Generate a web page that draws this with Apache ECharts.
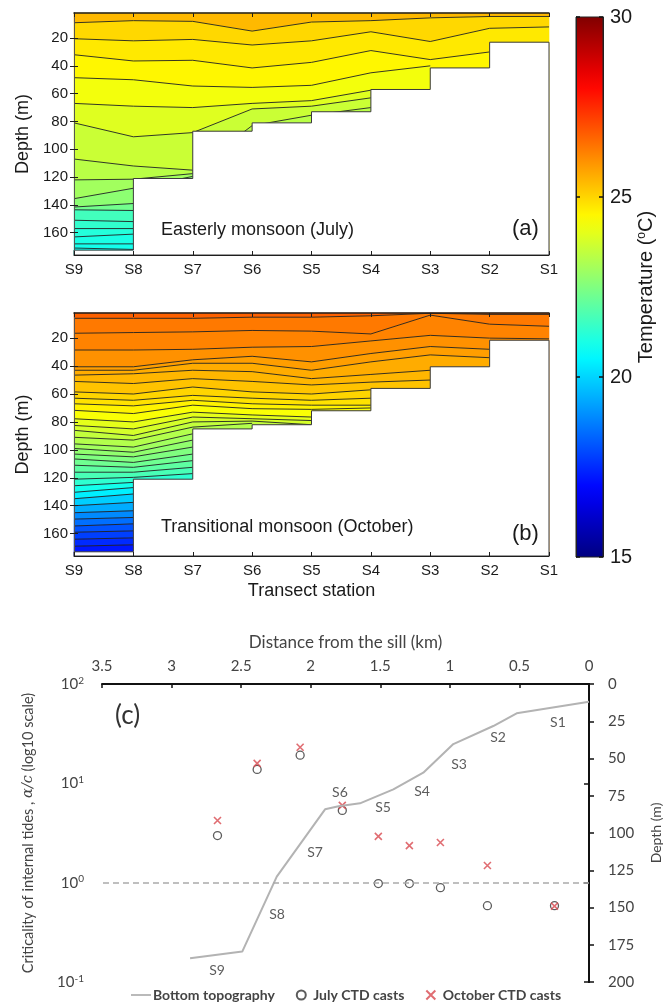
<!DOCTYPE html>
<html>
<head>
<meta charset="utf-8">
<script src="https://cdn.jsdelivr.net/npm/echarts@6/dist/echarts.min.js"></script>
<style>
  html, body { margin: 0; padding: 0; background: #fff; }
  #chart { width: 665px; height: 1003px; }
</style>
</head>
<body>
<div id="chart"></div>
<script>
// ---------- Temperature sections (panels a, b) ----------
const stations = ['S9', 'S8', 'S7', 'S6', 'S5', 'S4', 'S3', 'S2', 'S1'];
const depthTicks = [20, 40, 60, 80, 100, 120, 140, 160];
const DEPTH_MIN = 2;
const DEPTH_MAX = 176;

// sea-floor depth (m) of each segment between neighbouring stations
const floorJuly = [172.5, 121, 87, 81, 73, 57, 41.5, 23];
const floorOct  = [173, 121, 85, 82, 72, 56, 40.5, 21.5];

// isotherm depths (m) at S9..S1; a shorter list means the isotherm runs into the floor
const isoJuly = [
  [9, 7.5, 8, 15, 8.5, 7.5, 5.5, 4.5, 4.5],
  [20.5, 22, 21, 25, 22, 15.5, 22.5, 13, 12],
  [32, 36.5, 36, 41.5, 37.5, 29, 35.5, 30],
  [48.5, 50, 54.5, 55.5, 54, 45, 40],
  [67, 69, 70, 67, 65, 57.5],
  [81, 91, 88, 71, 69, 63],
  [107, 112, 115, 83, 75.5, 70],
  [122, 121.5, 117.5],
  [135.5, 128, 119.5],
  [141.5, 139, 121],
  [143.5, 144],
  [151, 152],
  [157, 157],
  [163, 161],
  [168, 168],
  [171, 172]
];
// temperature (°C) of each layer between isotherms, surface to floor
const bandTempJuly = [25.4, 24.95, 24.7, 24.5, 24.2, 23.9, 23.6, 23.35, 23.0, 22.7, 22.3,
  21.6, 21.35, 21.15, 21.0, 20.9, 20.8];

const isoOct = [
  [5.8, 5.8, 5.8, 5, 5, 4, 2.2, 3, 3],
  [16.5, 16, 15.5, 14.5, 15, 17, 3.5, 10, 11.5],
  [28.5, 28.5, 28, 26.5, 26, 22, 18, 20, 20.5],
  [40.5, 40.5, 35.5, 33, 37, 31, 26, 28],
  [43, 43, 38, 38, 43, 37, 32, 34],
  [46.5, 45.5, 43, 44, 49, 46, 43],
  [51, 52.5, 49, 51, 53.5, 51.5, 50],
  [58.5, 60, 55, 58.5, 60, 57],
  [63, 64.5, 61, 63, 64.5, 63],
  [67, 68.5, 64.5, 67, 68, 68],
  [71.7, 74, 68, 70.5, 71, 70],
  [77.7, 80, 73, 75, 76.5, 75],
  [82.5, 85, 76.5, 77.7, 79],
  [86, 89.7, 80, 79.4, 82],
  [91, 93, 83.7, 81],
  [95.7, 98, 88.5],
  [99, 101.7, 93],
  [103, 105, 98],
  [106.5, 109, 103],
  [111, 112.5, 107.7],
  [116, 116, 112.5],
  [121, 119.7, 117],
  [125.7, 123.3],
  [130.4, 127],
  [135, 131.6],
  [140, 137.6],
  [145, 143.6],
  [149.6, 148.4],
  [154.5, 153],
  [159, 158],
  [164, 163],
  [169, 168]
];
const bandTempOct = [26.7, 26.35, 26.2, 26.0, 25.8, 25.6, 25.45, 25.25, 25.0, 24.8, 24.55,
  24.3, 24.0, 23.75, 23.5, 23.25, 23.0, 22.75, 22.5, 22.25, 22.0, 21.7, 21.3, 20.9, 20.4,
  19.9, 19.4, 18.9, 18.5, 18.1, 17.8, 17.5, 17.2];

const tempMin = 15, tempMax = 30;

// ---------- Criticality (panel c) ----------
const castKm   = [2.67, 2.385, 2.076, 1.773, 1.514, 1.291, 1.068, 0.730, 0.248];
const julyCrit = [2.98, 13.8, 19.2, 5.34, 0.98, 0.98, 0.89, 0.586, 0.586];
const octCrit  = [4.23, 15.9, 23.1, 6.0, 2.92, 2.36, 2.54, 1.49, 0.58];
const topoKm    = [2.867, 2.492, 2.244, 1.897, 1.80, 1.646, 1.406, 1.191, 0.975, 0.688, 0.52, 0];
const topoDepth = [184, 179.6, 129.3, 84.1, 82, 80.1, 70.7, 59.5, 40.3, 28.2, 19.7, 11.9];
const stationLabelKm    = [2.673, 2.242, 1.969, 1.79, 1.48, 1.2, 0.934, 0.654, 0.223];
const stationLabelDepth = [192, 155, 113.4, 72.5, 83, 72, 53.7, 36, 26];
const criticalRatio = 1;

// MATLAB-style jet colormap
function jet(T) {
  const t = (T - tempMin) / (tempMax - tempMin);
  const c = v => Math.round(255 * Math.max(0, Math.min(1, v)));
  return 'rgb(' + c(1.5 - Math.abs(4 * t - 3)) + ',' + c(1.5 - Math.abs(4 * t - 2)) + ',' + c(1.5 - Math.abs(4 * t - 1)) + ')';
}

const AX = '#1e1e1e';
const ARIAL = '"Liberation Sans", Arial, sans-serif';
const SANS2 = 'Lato, "Open Sans", sans-serif';

function sectionAxes(gridIndex, showNames) {
  const xs = [
    {
      type: 'value', gridIndex, min: 0, max: stations.length - 1, interval: 1, z: 10,
      axisLine: { lineStyle: { color: AX, width: 1 } },
      axisTick: { inside: true, length: 4, lineStyle: { color: AX } },
      axisLabel: { formatter: v => stations[v], fontSize: 15, color: '#1a1a1a', fontFamily: ARIAL, margin: 7 },
      splitLine: { show: false },
      name: showNames ? 'Transect station' : '', nameLocation: 'middle', nameGap: 26,
      nameTextStyle: { fontSize: 18, color: '#1a1a1a', fontFamily: ARIAL }
    },
    {
      type: 'value', gridIndex, position: 'top', min: 0, max: stations.length - 1, interval: 1, z: 10,
      axisLine: { lineStyle: { color: AX, width: 1.5 } },
      axisTick: { inside: true, length: 4, lineStyle: { color: AX } },
      axisLabel: { show: false }, splitLine: { show: false }
    }
  ];
  const ys = [
    {
      type: 'value', gridIndex, inverse: true, min: DEPTH_MIN, max: DEPTH_MAX, z: 10,
      axisLine: { show: true, lineStyle: { color: AX, width: 1 } },
      axisTick: { show: true, inside: true, length: 4, customValues: depthTicks, lineStyle: { color: AX } },
      axisLabel: { customValues: depthTicks, fontSize: 15, color: '#1a1a1a', fontFamily: ARIAL, margin: 6 },
      splitLine: { show: false },
      name: 'Depth (m)', nameLocation: 'middle', nameGap: 40, nameRotate: 90,
      nameTextStyle: { fontSize: 18, color: '#1a1a1a', fontFamily: ARIAL }
    },
    {
      type: 'value', gridIndex, position: 'right', inverse: true, min: DEPTH_MIN, max: DEPTH_MAX, z: 10,
      axisLine: { show: true, lineStyle: { color: '#555', width: 1 } },
      axisTick: { show: true, inside: true, length: 4, customValues: depthTicks, lineStyle: { color: AX } },
      axisLabel: { show: false }, splitLine: { show: false }
    }
  ];
  return { xs, ys };
}

function sectionSeries(iso, temps, floor, xIdx, yIdx) {
  const n = stations.length;
  const full = iso.map(arr => stations.map((_, i) => (i < arr.length ? arr[i] : DEPTH_MAX)));
  const out = [];
  // filled layers between isotherms
  out.push({
    type: 'custom', xAxisIndex: xIdx, yAxisIndex: yIdx, z: 1, silent: true,
    data: temps.map(t => [t]),
    renderItem(params, api) {
      const k = params.dataIndex;
      const upper = k === 0 ? stations.map(() => DEPTH_MIN) : full[k - 1];
      const lower = k === full.length ? stations.map(() => DEPTH_MAX) : full[k];
      const pts = [];
      for (let i = 0; i < n; i++) pts.push(api.coord([i, upper[i]]));
      for (let i = n - 1; i >= 0; i--) pts.push(api.coord([i, lower[i]]));
      const col = jet(temps[k]);
      return { type: 'polygon', shape: { points: pts }, style: { fill: col, stroke: col, lineWidth: 0.6 } };
    }
  });
  // isotherm contour lines
  iso.forEach(arr => {
    out.push({
      type: 'line', xAxisIndex: xIdx, yAxisIndex: yIdx, z: 2, silent: true,
      symbol: 'none', smooth: false,
      lineStyle: { color: '#202020', width: 0.9 },
      data: arr.map((d, i) => [i, d])
    });
  });
  // sea floor
  out.push({
    type: 'custom', xAxisIndex: xIdx, yAxisIndex: yIdx, z: 3, silent: true,
    data: [[0]],
    renderItem(params, api) {
      const pts = [api.coord([0, DEPTH_MAX])];
      floor.forEach((d, i) => { pts.push(api.coord([i, d])); pts.push(api.coord([i + 1, d])); });
      pts.push(api.coord([n - 1, DEPTH_MAX]));
      return { type: 'polygon', shape: { points: pts }, style: { fill: '#ffffff', stroke: '#3a3a3a', lineWidth: 1 } };
    }
  });
  return out;
}

const A = sectionAxes(0, false);
const B = sectionAxes(1, true);

const logLabel = v => '10{s|' + Math.round(Math.log10(v)) + '}';

const option = {
  animation: false,
  backgroundColor: '#ffffff',
  grid: [
    { left: 74, top: 13, width: 475, height: 242, outerBoundsMode: 'none' },
    { left: 74, top: 313, width: 475, height: 243, outerBoundsMode: 'none' },
    { left: 576, top: 17, width: 27, height: 540, outerBoundsMode: 'none' },
    { left: 102, top: 684, width: 487, height: 298, outerBoundsMode: 'none' }
  ],
  xAxis: [
    A.xs[0], A.xs[1], B.xs[0], B.xs[1],
    { type: 'category', gridIndex: 2, data: ['T'], show: false },
    {
      type: 'value', gridIndex: 3, position: 'top', inverse: true, min: 0, max: 3.5, interval: 0.5,
      axisLine: { lineStyle: { color: '#111', width: 2 } },
      axisTick: { inside: true, length: 4, lineStyle: { color: '#111', width: 1.5 } },
      axisLabel: { fontSize: 15, color: '#444', fontFamily: SANS2, margin: 10 },
      splitLine: { show: false },
      name: 'Distance from the sill (km)', nameLocation: 'middle', nameGap: 33,
      nameTextStyle: { fontSize: 17, color: '#444', fontFamily: SANS2 }
    }
  ],
  yAxis: [
    A.ys[0], A.ys[1], B.ys[0], B.ys[1],
    {
      type: 'value', gridIndex: 2, position: 'right', min: tempMin, max: tempMax, interval: 5, z: 10,
      axisLine: { show: true, lineStyle: { color: '#222' } },
      axisTick: { show: true, inside: true, length: 4, lineStyle: { color: '#111', width: 1.5 } },
      axisLabel: { fontSize: 20, color: '#1a1a1a', fontFamily: ARIAL, margin: 7 },
      splitLine: { show: false },
      name: 'Temperature ({s|o}C)', nameLocation: 'middle', nameGap: 29, nameRotate: 90,
      nameTextStyle: {
        fontSize: 20, color: '#1a1a1a', fontFamily: ARIAL,
        rich: { s: { fontSize: 12, fontFamily: ARIAL, color: '#1a1a1a', padding: [0, 0, 9, 0] } }
      }
    },
    {
      type: 'value', gridIndex: 2, position: 'left', min: tempMin, max: tempMax, interval: 5, z: 10,
      axisLine: { show: true, lineStyle: { color: '#222' } },
      axisTick: { show: true, inside: true, length: 4, lineStyle: { color: '#111', width: 1.5 } },
      axisLabel: { show: false }, splitLine: { show: false }
    },
    {
      type: 'log', gridIndex: 3, logBase: 10, min: 0.1, max: 100,
      axisLine: { show: true, lineStyle: { color: '#111', width: 2 } },
      axisTick: { show: true, length: 5, lineStyle: { color: '#111', width: 1.5 } },
      axisLabel: {
        formatter: logLabel, fontSize: 15, color: '#444', fontFamily: SANS2, margin: 18,
        rich: { s: { fontSize: 10, color: '#444', fontFamily: SANS2, padding: [0, 0, 7, 0] } }
      },
      minorTick: { show: false },
      splitLine: { show: false },
      name: 'Criticality of internal tides , {i|α/c} (log10 scale)', nameLocation: 'middle', nameGap: 66, nameRotate: 90,
      nameTextStyle: {
        fontSize: 14.5, color: '#444', fontFamily: SANS2,
        rich: { i: { fontSize: 14.5, fontStyle: 'italic', color: '#444', fontFamily: '"DejaVu Serif", serif' } }
      }
    },
    {
      type: 'value', gridIndex: 3, position: 'right', inverse: true, min: 0, max: 200, interval: 25,
      axisLine: { show: true, lineStyle: { color: '#111', width: 2 } },
      axisTick: { show: true, length: 5, lineStyle: { color: '#111', width: 1.5 } },
      axisLabel: { fontSize: 15, color: '#444', fontFamily: SANS2, margin: 19 },
      splitLine: { show: false },
      name: 'Depth (m)', nameLocation: 'middle', nameGap: 60, nameRotate: 90,
      nameTextStyle: { fontSize: 14, color: '#444', fontFamily: SANS2 }
    }
  ],
  legend: {
    left: 126, top: 983, itemGap: 21, itemWidth: 20, itemHeight: 9,
    textStyle: { fontSize: 14, fontWeight: 'bold', color: '#444', fontFamily: SANS2, padding: [0, 0, 0, -3] },
    data: [
      { name: 'Bottom topography', icon: 'path://M0,0L100,0L100,9L0,9Z' },
      'July CTD casts',
      'October CTD casts'
    ]
  },
  graphic: [
    { type: 'text', z: 100, left: 161, top: 221, style: { text: 'Easterly monsoon (July)', fontSize: 18, fill: '#1a1a1a', fontFamily: ARIAL } },
    { type: 'text', z: 100, left: 512, top: 218, style: { text: '(a)', fontSize: 22, fill: '#1a1a1a', fontFamily: ARIAL } },
    { type: 'text', z: 100, left: 161, top: 518, style: { text: 'Transitional monsoon (October)', fontSize: 18, fill: '#1a1a1a', fontFamily: ARIAL } },
    { type: 'text', z: 100, left: 512, top: 523, style: { text: '(b)', fontSize: 22, fill: '#1a1a1a', fontFamily: ARIAL } },
    { type: 'text', z: 100, left: 115, top: 703, style: { text: '(c)', fontSize: 26, fill: '#333', fontFamily: SANS2 } }
  ],
  series: [
    ...sectionSeries(isoJuly, bandTempJuly, floorJuly, 0, 0),
    ...sectionSeries(isoOct, bandTempOct, floorOct, 2, 2),
    // colour scale bar
    {
      type: 'custom', xAxisIndex: 4, yAxisIndex: 4, silent: true, z: 1,
      data: [[0]],
      renderItem(params, api) {
        const top = api.coord([0, tempMax]);
        const bot = api.coord([0, tempMin]);
        const cs = params.coordSys;
        const stops = [];
        for (let i = 0; i <= 30; i++) {
          stops.push({ offset: i / 30, color: jet(tempMax - (tempMax - tempMin) * i / 30) });
        }
        return {
          type: 'rect',
          shape: { x: cs.x, y: top[1], width: cs.width, height: bot[1] - top[1] },
          style: { fill: new echarts.graphic.LinearGradient(0, 0, 0, 1, stops), stroke: '#222', lineWidth: 1 }
        };
      }
    },
    // panel (c)
    {
      name: 'Bottom topography', type: 'line', xAxisIndex: 5, yAxisIndex: 7,
      symbol: 'none', lineStyle: { color: '#b3b3b3', width: 2 }, itemStyle: { color: '#b3b3b3' },
      data: topoKm.map((k, i) => [k, topoDepth[i]])
    },
    {
      name: 'July CTD casts', type: 'scatter', xAxisIndex: 5, yAxisIndex: 6,
      symbol: 'circle', symbolSize: 8,
      itemStyle: { color: 'rgba(255,255,255,0)', borderColor: '#333', borderWidth: 1.3 },
      data: castKm.map((k, i) => [k, julyCrit[i]]),
      markLine: {
        silent: true, symbol: 'none', label: { show: false },
        lineStyle: { color: '#aaaaaa', type: [6, 4], width: 1.5 },
        data: [{ yAxis: criticalRatio }]
      }
    },
    {
      name: 'October CTD casts', type: 'scatter', xAxisIndex: 5, yAxisIndex: 6,
      symbol: 'path://M0,0L10,10M10,0L0,10', symbolSize: 7,
      itemStyle: { color: 'rgba(255,255,255,0)', borderColor: '#d8484f', borderWidth: 1.6 },
      data: castKm.map((k, i) => [k, octCrit[i]])
    },
    {
      type: 'scatter', xAxisIndex: 5, yAxisIndex: 7, silent: true, symbolSize: 1,
      itemStyle: { color: 'rgba(0,0,0,0)' },
      label: { show: true, position: 'inside', formatter: p => p.name, fontSize: 14, color: '#333', fontFamily: SANS2 },
      data: stations.map((s, i) => ({ name: s, value: [stationLabelKm[i], stationLabelDepth[i]] }))
    }
  ]
};

const chart = echarts.init(document.getElementById('chart'), null, { renderer: 'canvas' });
chart.setOption(option);
</script>
</body>
</html>
